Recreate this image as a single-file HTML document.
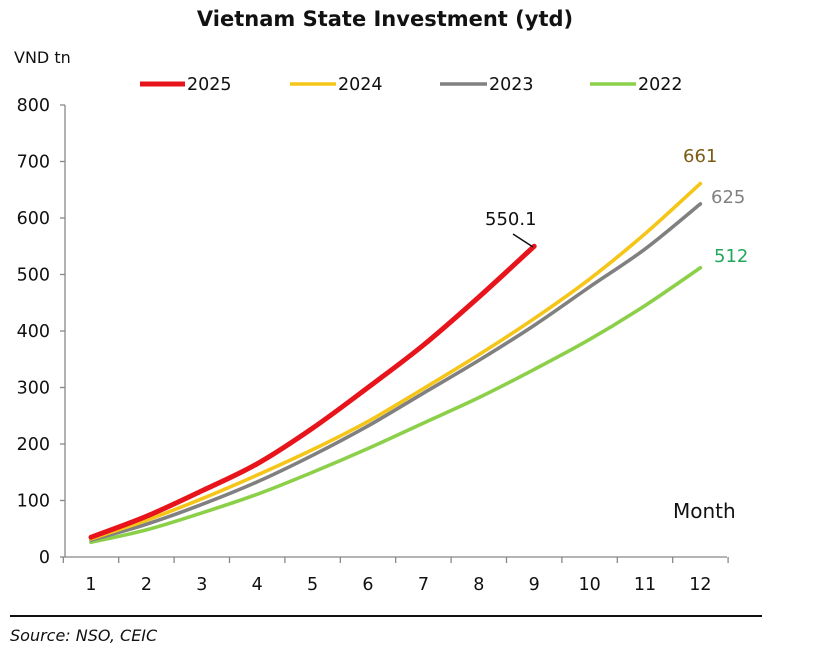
<!DOCTYPE html>
<html><head><meta charset="utf-8"><style>
html,body{margin:0;padding:0;background:#fff;}
svg text{font-family:"DejaVu Sans","Liberation Sans",sans-serif;}
</style></head><body>
<svg id="s" width="816" height="647" viewBox="0 0 816 647" xmlns="http://www.w3.org/2000/svg">
<text x="385" y="26" text-anchor="middle" font-size="21" font-weight="bold" fill="#111">Vietnam State Investment (ytd)</text>
<text x="14" y="63" font-size="16" fill="#111">VND tn</text>
<g font-size="17.5" fill="#111">
<line x1="140" y1="84" x2="185" y2="84" stroke="#e8141b" stroke-width="5"/><text x="187" y="90">2025</text>
<line x1="290" y1="84" x2="336" y2="84" stroke="#f5c518" stroke-width="3.5"/><text x="338" y="90">2024</text>
<line x1="440" y1="84" x2="487" y2="84" stroke="#808080" stroke-width="3.5"/><text x="489" y="90">2023</text>
<line x1="590" y1="84" x2="636" y2="84" stroke="#8cd04a" stroke-width="3.5"/><text x="638" y="90">2022</text>
</g>
<g id="ax" stroke="#888" stroke-width="1.3" fill="none"></g>
<g id="yl" font-size="17.5" fill="#111" text-anchor="end"></g>
<g id="xl" font-size="17.5" fill="#111" text-anchor="middle"></g>
<g id="ln" fill="none" stroke-linejoin="round" stroke-linecap="round"></g>
<text x="673" y="518" font-size="20" fill="#111">Month</text>
<line x1="513" y1="234" x2="533" y2="247" stroke="#111" stroke-width="1.5"/>
<text x="485" y="225" font-size="18" fill="#111">550.1</text>
<text x="683" y="162" font-size="18" fill="#7a5c14">661</text>
<text x="711" y="203" font-size="18" fill="#808080">625</text>
<text x="714" y="262" font-size="18" fill="#22a65a">512</text>
<line x1="10" y1="616" x2="762" y2="616" stroke="#111" stroke-width="2"/>
<text x="10" y="641" font-size="16" font-style="italic" fill="#111">Source: NSO, CEIC</text>
</svg>
<script>
var NS="http://www.w3.org/2000/svg";
function el(p,t,a,tx){var e=document.createElementNS(NS,t);for(var k in a)e.setAttribute(k,a[k]);if(tx!=null)e.textContent=tx;document.getElementById(p).appendChild(e);}
function Y(v){return 557-v*0.565;}function X(m){return 91+(m-1)*55.4;}
el("ax","line",{x1:65,y1:105,x2:65,y2:557});
el("ax","line",{x1:65,y1:557,x2:727,y2:557});
for(var v=0;v<=800;v+=100){el("ax","line",{x1:60,y1:Y(v),x2:65,y2:Y(v)});el("yl","text",{x:50,y:Y(v)+6},v);}
for(var i=0;i<=12;i++){var x=63.3+i*55.4;el("ax","line",{x1:x,y1:557,x2:x,y2:563});}
for(var m=1;m<=12;m++)el("xl","text",{x:X(m),y:590},m);
var D=[
["#8cd04a",3.6,[26,48,78,111,150,192,237,282,332,385,445,512]],
["#808080",3.6,[30,58,93,133,180,232,290,348,410,478,545,625]],
["#f5c518",3.6,[32,65,103,145,190,240,298,358,422,492,572,661]],
["#e8141b",5,[35,72,117,165,228,300,375,460,550]]];
D.forEach(function(s){var p=s[2].map(function(v,i){return [X(i+1),Y(v)];});
var d="M"+p[0][0]+","+p[0][1];
for(var i=0;i<p.length-1;i++){var p0=p[i-1]||p[i],p1=p[i],p2=p[i+1],p3=p[i+2]||p2;
d+=" C"+(p1[0]+(p2[0]-p0[0])/6)+","+(p1[1]+(p2[1]-p0[1])/6)+" "+(p2[0]-(p3[0]-p1[0])/6)+","+(p2[1]-(p3[1]-p1[1])/6)+" "+p2[0]+","+p2[1];}
el("ln","path",{d:d,stroke:s[0],"stroke-width":s[1]});});
</script>
</body></html>
